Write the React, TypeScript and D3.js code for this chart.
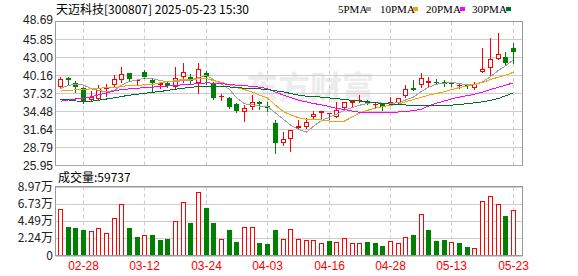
import React from "react";
import * as d3 from "d3";

const title = "天迈科技[300807] 2025-05-23 15:30";
const volTitle = "成交量:59737";
const legendNames = ["5PMA", "10PMA", "20PMA", "30PMA"];

const dates = [
  "02-25", "02-26", "02-27", "02-28", "03-03", "03-04", "03-05", "03-06", "03-07", "03-10",
  "03-11", "03-12", "03-13", "03-14", "03-17", "03-18", "03-19", "03-20", "03-21", "03-24",
  "03-25", "03-26", "03-27", "03-28", "03-31", "04-01", "04-02", "04-03", "04-07", "04-08",
  "04-09", "04-10", "04-11", "04-14", "04-15", "04-16", "04-17", "04-18", "04-21", "04-22",
  "04-23", "04-24", "04-25", "04-28", "04-29", "04-30", "05-06", "05-07", "05-08", "05-09",
  "05-12", "05-13", "05-14", "05-15", "05-16", "05-19", "05-20", "05-21", "05-22", "05-23",
];

const opens = [
  38.39, 39.72, 39.03, 38.24, 36.25, 36.45, 38.03, 38.62, 39.45, 40.51,
  39.29, 40.76, 39.45, 38.66, 39.03, 38.30, 39.97, 39.97, 38.93, 40.60,
  38.93, 36.72, 36.65, 35.66, 34.45, 35.14, 36.02, 35.35, 32.61, 29.45,
  30.09, 31.92, 32.08, 33.66, 34.19, 34.08, 33.66, 34.98, 35.77, 36.14,
  36.14, 35.50, 35.66, 35.66, 35.87, 36.92, 38.24, 38.62, 39.03, 39.18,
  39.09, 38.90, 38.55, 38.62, 38.14, 40.67, 41.30, 42.72, 43.04, 44.55,
];
const highs = [
  39.97, 39.88, 39.29, 38.39, 37.76, 38.62, 38.77, 40.19, 41.46, 40.60,
  39.56, 41.03, 39.56, 39.18, 39.18, 41.55, 42.09, 40.40, 42.18, 40.92,
  39.18, 37.24, 36.81, 35.87, 35.50, 37.08, 36.10, 36.02, 33.13, 31.29,
  31.55, 33.13, 33.40, 34.60, 34.60, 34.19, 36.02, 36.02, 36.18, 37.08,
  36.29, 36.02, 35.87, 36.72, 36.56, 38.66, 39.45, 40.60, 39.88, 39.56,
  39.45, 39.03, 39.03, 38.82, 39.18, 44.55, 46.04, 46.92, 43.83, 45.34,
];
const lows = [
  38.14, 38.66, 37.57, 35.87, 36.14, 36.29, 36.92, 38.39, 39.18, 39.45,
  38.66, 39.72, 37.76, 38.24, 38.39, 38.14, 39.18, 38.93, 37.35, 38.82,
  36.40, 36.29, 34.98, 34.45, 33.02, 34.82, 34.82, 34.60, 27.97, 29.19,
  28.29, 31.82, 31.82, 33.24, 33.50, 33.24, 33.56, 34.82, 35.24, 36.02,
  35.66, 35.14, 34.71, 35.58, 35.77, 36.81, 37.87, 38.39, 38.50, 38.82,
  38.55, 38.50, 38.14, 38.14, 37.98, 40.67, 40.24, 42.72, 41.93, 42.14,
];
const closes = [
  39.56, 39.45, 38.39, 36.14, 36.77, 38.24, 38.30, 39.56, 40.40, 39.61,
  39.45, 39.88, 39.00, 38.90, 38.55, 39.72, 40.67, 39.29, 41.14, 39.97,
  36.56, 36.92, 35.24, 34.60, 35.08, 36.02, 35.66, 34.98, 29.45, 30.09,
  31.55, 32.19, 32.87, 34.03, 34.56, 34.19, 34.71, 36.02, 36.08, 36.29,
  35.77, 35.66, 35.19, 36.02, 36.56, 38.05, 37.95, 39.72, 39.29, 38.93,
  38.75, 38.80, 38.65, 38.55, 38.82, 41.14, 42.72, 43.56, 42.09, 43.83,
];
const prevClose = 38.9;

const volumes = [
  60700, 37700, 36000, 32500, 32100, 36000, 29500, 49000, 67200, 36000,
  24700, 26900, 27300, 20800, 22100, 45100, 69300, 42900, 82300, 62000,
  42500, 21700, 32500, 18200, 36800, 36800, 16000, 14300, 33400, 21700,
  34700, 21700, 20400, 20400, 16900, 19500, 18200, 23000, 16900, 16900,
  18200, 16000, 13000, 19500, 16000, 24700, 27300, 54200, 33400, 18600,
  20800, 18200, 16000, 10800, 10000, 71500, 78000, 67200, 52000, 59737,
];

const ma5 = [
  38.10, 38.60, 38.80, 38.65, 38.06, 37.80, 37.57, 37.80, 38.65, 39.22,
  39.46, 39.78, 39.66, 39.37, 39.15, 39.20, 39.36, 39.43, 39.87, 40.16,
  39.53, 38.78, 37.97, 36.66, 35.68, 35.57, 35.32, 35.27, 34.24, 33.24,
  32.35, 31.65, 31.23, 32.15, 33.04, 33.57, 34.07, 34.70, 35.11, 35.46,
  35.77, 35.96, 35.79, 35.79, 35.84, 36.29, 36.75, 37.66, 38.32, 38.79,
  38.94, 39.10, 38.88, 38.66, 38.71, 39.17, 39.98, 40.98, 41.68, 42.67,
];
const ma10 = [
  37.70, 37.80, 37.90, 37.98, 38.05, 38.15, 38.23, 38.31, 38.39, 38.64,
  38.63, 38.68, 38.73, 39.01, 39.19, 39.33, 39.57, 39.54, 39.62, 39.66,
  39.37, 39.07, 38.70, 38.27, 37.92, 37.55, 37.05, 36.62, 35.45, 34.46,
  33.96, 33.49, 33.25, 33.20, 33.14, 32.96, 32.86, 32.97, 33.63, 34.25,
  34.67, 35.01, 35.25, 35.45, 35.65, 36.02, 36.36, 36.73, 37.06, 37.32,
  37.62, 37.93, 38.27, 38.52, 38.74, 39.06, 39.53, 39.91, 40.19, 40.68,
];
const ma20 = [
  36.10, 36.30, 36.45, 36.55, 36.80, 37.10, 37.40, 37.75, 37.95, 38.05,
  38.15, 38.24, 38.33, 38.42, 38.50, 38.60, 38.70, 38.80, 38.85, 39.00,
  38.95, 38.88, 38.72, 38.64, 38.56, 38.44, 38.31, 38.08, 37.54, 37.06,
  36.67, 36.28, 35.98, 35.74, 35.53, 35.26, 34.96, 34.80, 34.54, 34.36,
  34.32, 34.25, 34.25, 34.33, 34.40, 34.49, 34.61, 34.85, 35.35, 35.79,
  36.15, 36.47, 36.76, 36.99, 37.20, 37.54, 37.95, 38.32, 38.63, 39.00,
];
const ma30 = [
  36.40, 36.30, 36.15, 36.02, 36.10, 36.25, 36.45, 36.65, 36.85, 37.05,
  37.20, 37.35, 37.50, 37.65, 37.80, 38.00, 38.15, 38.30, 38.40, 38.45,
  38.50, 38.45, 38.35, 38.25, 38.15, 38.10, 38.05, 37.95, 37.75, 37.59,
  37.32, 37.08, 36.90, 36.83, 36.75, 36.62, 36.50, 36.38, 36.23, 36.13,
  36.00, 35.86, 35.73, 35.64, 35.57, 35.51, 35.42, 35.44, 35.38, 35.35,
  35.42, 35.48, 35.59, 35.73, 35.85, 36.01, 36.25, 36.54, 36.96, 37.42,
];

const priceTicks = [25.95, 28.79, 31.64, 34.48, 37.32, 40.16, 43.0, 45.85, 48.69];
const priceTickLabels = ["25.95", "28.79", "31.64", "34.48", "37.32", "40.16", "43.00", "45.85", "48.69"];
const volTicks = [0, 22425, 44850, 67275, 89700];
const volTickLabels = ["0", "2.24万", "4.49万", "6.73万", "8.97万"];
const xTickDates = ["02-28", "03-12", "03-24", "04-03", "04-16", "04-28", "05-13", "05-23"];

const RED = "#ff0000";
const GREEN = "#008000";
const maColors = ["#a0a0a0", "#f4a300", "#ff00ff", "#006f2e"];

export default function App() {
  const W = 578;
  const H = 276;
  const left = 55.5;
  const right = 522.5;
  const pTop = 21.5;
  const pBot = 165.5;
  const vTop = 186.5;
  const vBot = 255.5;

  const x = d3.scaleBand<string>().domain(dates).range([56.5, 517.2]).paddingInner(0);
  const cx = (d: string) => Math.floor((x(d) as number) + x.bandwidth() / 2) + 0.5;
  const y = d3.scaleLinear().domain([25.95, 48.69]).range([pBot, pTop]);
  const yv = d3.scaleLinear().domain([0, 89700]).range([vBot, vTop]);

  const mas = [ma5, ma10, ma20, ma30];
  const line = (arr: number[]) =>
    d3
      .line<number>()
      .x((_, i) => cx(dates[i]))
      .y((v) => y(v))(arr) as string;

  const labelFont = "'Liberation Sans', Arial, sans-serif";
  const cjkFont = "'Noto Sans CJK SC', 'Liberation Sans', sans-serif";

  const legendTextX = [338, 380, 426, 472];
  const legendSqX = [366, 413, 460, 506];

  return (
    <svg
      width={W}
      height={H}
      style={{ position: "fixed", left: 0, top: 0, background: "#fff" }}
    >
      <rect x={0} y={0} width={W} height={H} fill="#fff" />
      {/* title */}
      <text x={56} y={14} fontFamily={cjkFont} fontSize={12} fill="#000">
        {title}
      </text>
      {/* legend */}
      {legendNames.map((n, i) => (
        <g key={n}>
          <text x={legendTextX[i]} y={13} fontFamily="'Liberation Serif', serif" fontSize={11} fill="#000">
            {n}
          </text>
          <rect x={legendSqX[i]} y={7} width={5} height={4} fill={maColors[i]} />
        </g>
      ))}

      {/* watermark */}
      <text
        x={246}
        y={99}
        fontFamily={cjkFont}
        fontSize={32}
        fontWeight={700}
        fill="#ececec"
      >
        东方财富
      </text>

      {/* price grid */}
      {priceTicks.map((t, i) => (
        <g key={"pt" + i}>
          <line x1={left} x2={right} y1={y(t)} y2={y(t)} stroke="#cccccc" />
          <text
            x={53}
            y={i === priceTicks.length - 1 ? y(t) - 2 : y(t)}
            dy="0.35em"
            textAnchor="end"
            fontFamily={labelFont}
            fontSize={12}
            fill="#222"
          >
            {priceTickLabels[i]}
          </text>
        </g>
      ))}
      {/* vol grid */}
      {volTicks.map((t, i) => (
        <g key={"vt" + i}>
          <line x1={left} x2={right} y1={Math.round(yv(t)) + 0.5 - (i === 0 ? 0 : 0)} y2={Math.round(yv(t)) + 0.5} stroke="#cccccc" />
          <text
            x={53}
            y={yv(t)}
            dy="0.35em"
            textAnchor="end"
            fontFamily={cjkFont}
            fontSize={12}
            fill="#222"
          >
            {volTickLabels[i]}
          </text>
        </g>
      ))}
      {/* vertical dashed grid + x labels */}
      {xTickDates.map((d) => (
        <g key={"x" + d}>
          <line x1={cx(d)} x2={cx(d)} y1={pTop} y2={pBot} stroke="#cccccc" strokeDasharray="4,3" />
          <line x1={cx(d)} x2={cx(d)} y1={vTop} y2={vBot} stroke="#cccccc" strokeDasharray="4,3" />
          <text
            x={cx(d)}
            y={270}
            textAnchor="middle"
            fontFamily={labelFont}
            fontSize={12}
            fill={RED}
          >
            {d}
          </text>
        </g>
      ))}

      {/* candles */}
      {dates.map((d, i) => {
        const o = opens[i];
        const c = closes[i];
        const up = c >= o;
        const col = up ? RED : GREEN;
        const X = cx(d);
        const yTop = Math.round(y(Math.max(o, c)));
        const yBot = Math.round(y(Math.min(o, c)));
        const hi = Math.round(y(highs[i]));
        const lo = Math.round(y(lows[i]));
        const h = yBot - yTop;
        return (
          <g key={"c" + d} shapeRendering="crispEdges">
            <line x1={X} x2={X} y1={hi} y2={lo + 1} stroke={col} />
            {h < 2 ? (
              <rect x={X - 2.5} y={yTop} width={5} height={Math.max(1, h)} fill={col} />
            ) : up ? (
              <rect x={X - 2} y={yTop + 0.5} width={4} height={h - 1} fill="#fff" stroke={col} />
            ) : (
              <rect x={X - 2.5} y={yTop} width={5} height={h} fill={col} />
            )}
          </g>
        );
      })}

      {/* MA lines */}
      {mas.map((arr, i) => (
        <path key={"ma" + i} d={line(arr)} fill="none" stroke={maColors[i]} strokeWidth={1} shapeRendering="crispEdges" />
      ))}

      {/* volume */}
      <text x={58} y={182} fontFamily={cjkFont} fontSize={12} fill="#000">
        {volTitle}
      </text>
      {dates.map((d, i) => {
        const pc = i === 0 ? prevClose : closes[i - 1];
        const up = closes[i] >= pc;
        const X = cx(d);
        const top = Math.round(yv(volumes[i]));
        const bot = 255;
        return up ? (
          <rect key={"v" + d} x={X - 2} y={top + 0.5} width={4} height={bot - top - 0.5} fill="#fff" stroke={RED} shapeRendering="crispEdges" />
        ) : (
          <rect key={"v" + d} x={X - 2.5} y={top} width={5} height={bot - top} fill={GREEN} shapeRendering="crispEdges" />
        );
      })}

      {/* frames */}
      <path
        d={`M${left},${pBot} V${pTop} H${right} V${pBot}`}
        fill="none"
        stroke="#999"
        shapeRendering="crispEdges"
      />
      <line x1={left} x2={right} y1={pBot} y2={pBot} stroke="#aaa" />
      <path
        d={`M${left},${vBot} V${vTop} H${right} V${vBot} H${left}`}
        fill="none"
        stroke="#999"
        shapeRendering="crispEdges"
      />
    </svg>
  );
}
